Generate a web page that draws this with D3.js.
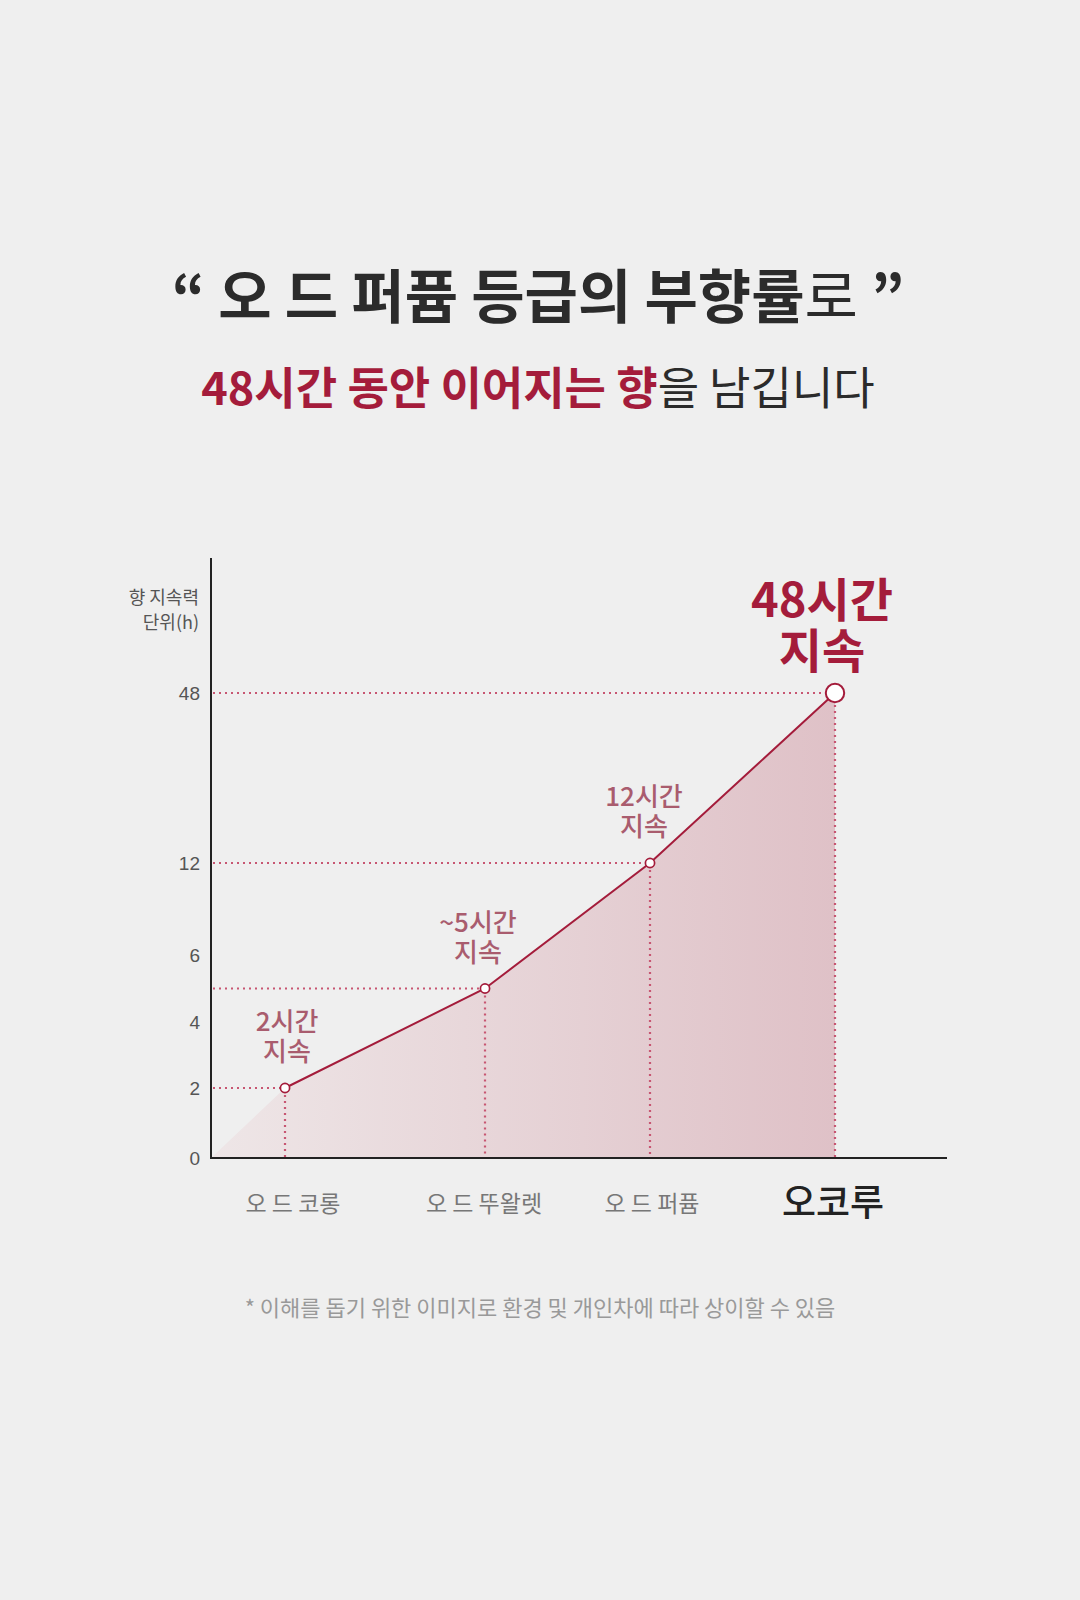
<!DOCTYPE html>
<html>
<head>
<meta charset="utf-8">
<script src="https://cdn.jsdelivr.net/npm/d3@7"></script>
<style>
  body { margin: 0; background: #efefef; }
  svg { display: block; font-family: "Noto Sans CJK KR", "Noto Sans", sans-serif; }
  .ytick text { font-size: 19px; fill: #555; }
</style>
</head>
<body>
<svg id="chart" width="1080" height="1600"></svg>
<script>
// data
const categories = ['오 드 코롱', '오 드 뚜왈렛', '오 드 퍼퓸', '오코루']
const hours = [2, 5, 12, 48]
const noteTop = ['2시간', '~5시간', '12시간', '48시간']
const noteBottom = ['지속', '지속', '지속', '지속']
const yTicks = [0, 2, 4, 6, 12, 48]

const red = '#a41c3b'
const soft = '#a95c6e'
const dotted = '#c75672'

// small nudges for the labels
const noteDx = [2, -7, -6, -13]
const catDx = [8, -1, 2, -2]

const svg = d3.select('#chart')

// title
const t1 = svg.append('text')
  .attr('x', 538).attr('y', 318)
  .attr('text-anchor', 'middle')
  .attr('fill', '#2b2b2b')
  .style('font-size', '58px')
t1.append('tspan').attr('font-weight', 700).text('“ 오 드 퍼퓸 등급의 부향률')
t1.append('tspan').attr('font-weight', 400).text('로 ')
t1.append('tspan').attr('font-weight', 700).text('”')

const t2 = svg.append('text')
  .attr('x', 538).attr('y', 405)
  .attr('text-anchor', 'middle')
  .style('font-size', '45px')
t2.append('tspan').attr('font-weight', 700).attr('fill', red).text('48시간 동안 이어지는 향')
t2.append('tspan').attr('font-weight', 400).attr('fill', '#2b2b2b').text('을 남깁니다')

// scales: the y axis is stretched unevenly, so use piecewise domains
const y = d3.scaleLinear()
  .domain(yTicks)
  .range([1158, 1088, 1022, 955, 863, 693])

// index -1 is the origin of the plot
const x = d3.scaleLinear()
  .domain([-1, 0, 1, 2, 3])
  .range([211, 285, 485, 650, 835])

const pts = hours.map((h, i) => ({ i: i, h: h }))
const last = pts.length - 1

// gradient fill for the area
const grad = svg.append('defs').append('linearGradient')
  .attr('id', 'areaGrad')
  .attr('gradientUnits', 'userSpaceOnUse')
  .attr('x1', x(-1)).attr('x2', x(3)).attr('y1', 0).attr('y2', 0)
grad.append('stop').attr('offset', '0%').attr('stop-color', '#eee6e7')
grad.append('stop').attr('offset', '100%').attr('stop-color', '#dfc1c7')

const area = d3.area()
  .x(d => x(d.i))
  .y0(y(0))
  .y1(d => y(d.h))

svg.append('path')
  .datum([{ i: -1, h: 0 }].concat(pts))
  .attr('d', area)
  .attr('fill', 'url(#areaGrad)')

// dotted guides
const guides = svg.append('g')
  .attr('stroke', dotted)
  .attr('stroke-width', 2.2)
  .attr('stroke-dasharray', '2,4')
  .attr('fill', 'none')

guides.selectAll('.hguide')
  .data(pts)
  .join('line')
  .attr('class', 'hguide')
  .attr('x1', x(-1) + 2)
  .attr('x2', (d, i) => x(d.i) - (i === last ? 10 : 5))
  .attr('y1', d => y(d.h))
  .attr('y2', d => y(d.h))

guides.selectAll('.vguide')
  .data(pts)
  .join('line')
  .attr('class', 'vguide')
  .attr('x1', d => x(d.i))
  .attr('x2', d => x(d.i))
  .attr('y1', (d, i) => y(d.h) + (i === last ? 12 : 7))
  .attr('y2', y(0) - 1)

// line
svg.append('path')
  .datum(pts)
  .attr('d', d3.line().x(d => x(d.i)).y(d => y(d.h)))
  .attr('fill', 'none')
  .attr('stroke', red)
  .attr('stroke-width', 2)

// axes lines
svg.append('line')
  .attr('x1', x(-1)).attr('x2', x(-1))
  .attr('y1', 558).attr('y2', y(0) + 1)
  .attr('stroke', '#222').attr('stroke-width', 2)
svg.append('line')
  .attr('x1', x(-1) - 1).attr('x2', 947)
  .attr('y1', y(0)).attr('y2', y(0))
  .attr('stroke', '#222').attr('stroke-width', 2)

// y tick labels
const yAxis = svg.append('g')
  .attr('class', 'ytick')
  .attr('transform', `translate(${x(-1)},0)`)
  .call(d3.axisLeft(y).tickValues(yTicks).tickSize(0).tickPadding(11))
yAxis.select('.domain').remove()
yAxis.selectAll('text').attr('font-family', null).attr('font-size', null)

// y unit label
svg.append('text')
  .attr('x', 199).attr('y', 604)
  .attr('text-anchor', 'end')
  .attr('fill', '#555')
  .style('font-size', '18px')
  .text('향 지속력')
svg.append('text')
  .attr('x', 199).attr('y', 629)
  .attr('text-anchor', 'end')
  .attr('fill', '#555')
  .style('font-size', '18px')
  .text('단위(h)')

// points
svg.selectAll('.pt')
  .data(pts)
  .join('circle')
  .attr('class', 'pt')
  .attr('cx', d => x(d.i))
  .attr('cy', d => y(d.h))
  .attr('r', (d, i) => i === last ? 9.2 : 4.6)
  .attr('fill', '#fff')
  .attr('stroke', red)
  .attr('stroke-width', (d, i) => i === last ? 2 : 1.7)

// annotations above points
const notes = svg.selectAll('.note')
  .data(pts)
  .join('text')
  .attr('class', 'note')
  .attr('text-anchor', 'middle')
  .attr('fill', (d, i) => i === last ? red : soft)
  .attr('font-weight', (d, i) => i === last ? 700 : 500)
  .style('font-size', (d, i) => i === last ? '47px' : '26px')
notes.append('tspan')
  .attr('x', (d, i) => x(d.i) + noteDx[i])
  .attr('y', (d, i) => i === last ? y(d.h) - 76 : y(d.h) - 57)
  .text((d, i) => noteTop[i])
notes.append('tspan')
  .attr('x', (d, i) => x(d.i) + noteDx[i])
  .attr('dy', (d, i) => i === last ? 51 : 30)
  .text((d, i) => noteBottom[i])

// category labels
svg.selectAll('.cat')
  .data(categories)
  .join('text')
  .attr('class', 'cat')
  .attr('x', (d, i) => x(i) + catDx[i])
  .attr('y', (d, i) => i === last ? 1216 : 1212)
  .attr('text-anchor', 'middle')
  .attr('fill', (d, i) => i === last ? '#222' : '#777')
  .attr('font-weight', (d, i) => i === last ? 500 : 400)
  .style('font-size', (d, i) => i === last ? '37px' : '23px')
  .text(d => d)

// footnote
svg.append('text')
  .attr('x', 540).attr('y', 1316)
  .attr('text-anchor', 'middle')
  .attr('fill', '#999')
  .style('font-size', '22px')
  .text('* 이해를 돕기 위한 이미지로 환경 및 개인차에 따라 상이할 수 있음')
</script>
</body>
</html>
